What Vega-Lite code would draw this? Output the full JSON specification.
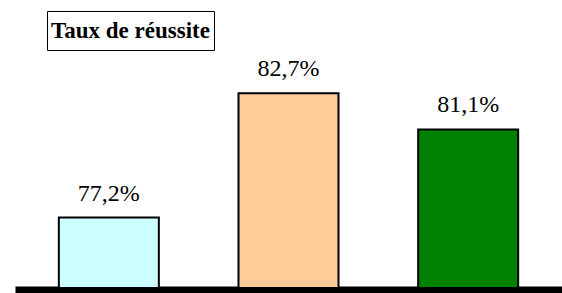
{
  "$schema": "https://vega.github.io/schema/vega-lite/v6.json",
  "width": 539,
  "height": 288,
  "autosize": {"type": "none"},
  "padding": {"left": 19, "top": 0, "right": 4, "bottom": 5},
  "background": "white",
  "config": {
    "view": {"stroke": null},
    "locale": {"number": {"decimal": ",", "thousands": " ", "grouping": [3], "currency": ["", " €"], "percent": "%"}}
  },
  "data": {
    "values": [
      {"groupe": "1", "taux": 0.772},
      {"groupe": "2", "taux": 0.827},
      {"groupe": "3", "taux": 0.811}
    ]
  },
  "encoding": {
    "x": {
      "field": "groupe",
      "type": "nominal",
      "sort": null,
      "scale": {"paddingInner": 0.4434, "paddingOuter": 0.2217},
      "axis": {
        "title": null,
        "labels": false,
        "ticks": true,
        "tickBand": "extent",
        "tickColor": "black",
        "tickSize": 6,
        "tickWidth": 2,
        "domainColor": "black",
        "domainWidth": 8,
        "domainCap": "square",
        "offset": 2,
        "grid": false
      }
    },
    "y": {
      "field": "taux",
      "type": "quantitative",
      "scale": {"domain": [0.7408, 0.8683], "zero": false, "nice": false},
      "axis": null
    }
  },
  "layer": [
    {
      "mark": {"type": "bar", "stroke": "black", "strokeWidth": 2},
      "encoding": {
        "y2": {"datum": 0.7408},
        "color": {
          "field": "groupe",
          "type": "nominal",
          "scale": {"domain": ["1", "2", "3"], "range": ["#CCFFFF", "#FFCC99", "#008000"]},
          "legend": {
            "title": null,
            "values": ["1"],
            "orient": "none",
            "legendX": 28,
            "legendY": 11,
            "strokeColor": "black",
            "padding": 4,
            "symbolType": "circle",
            "symbolSize": 961,
            "symbolStrokeWidth": 0,
            "symbolOpacity": 0,
            "labelExpr": "'Taux de réussite'",
            "labelFont": "Liberation Serif",
            "labelFontSize": 23,
            "labelFontWeight": "bold",
            "labelColor": "black",
            "labelBaseline": "middle",
            "labelLimit": 0,
            "labelOffset": -31
          }
        }
      }
    },
    {
      "mark": {"type": "text", "baseline": "alphabetic", "dy": -17, "font": "Liberation Serif", "fontSize": 24, "color": "black"},
      "encoding": {
        "text": {"field": "taux", "type": "quantitative", "format": ".1%"}
      }
    }
  ]
}
